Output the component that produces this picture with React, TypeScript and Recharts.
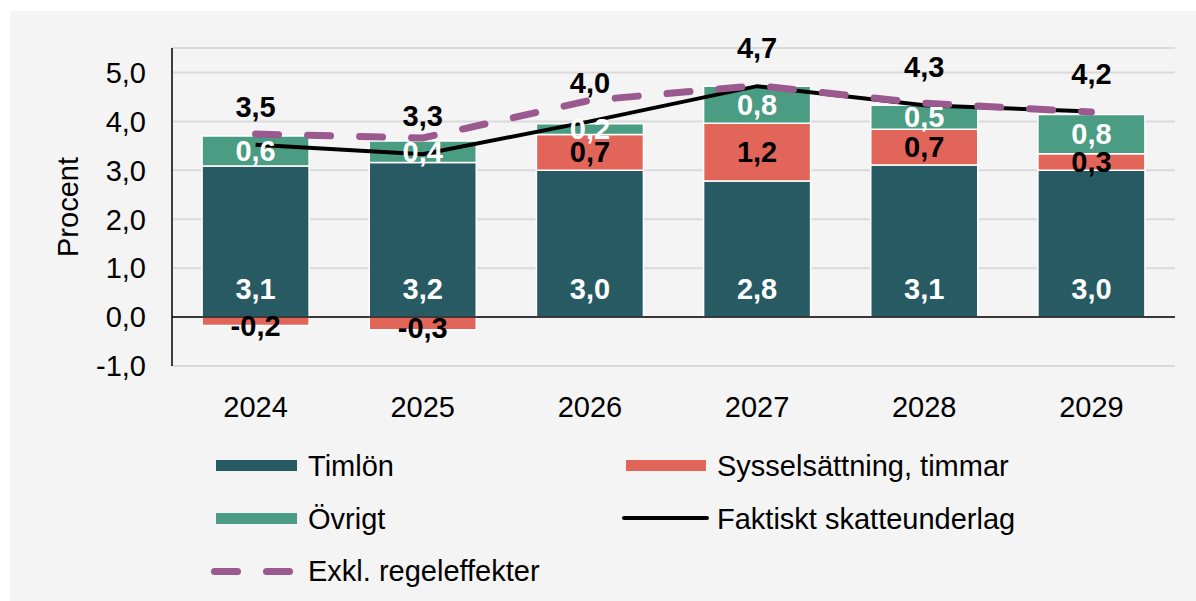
import { ComposedChart, Bar, Line, XAxis, YAxis, CartesianGrid, ReferenceLine, LabelList } from 'recharts';

const years = ['2024', '2025', '2026', '2027', '2028', '2029'];
const timlon = [3.09, 3.16, 3.0, 2.78, 3.11, 3.0];
const syssel = [-0.17, -0.26, 0.73, 1.18, 0.73, 0.34];
const ovrigt = [0.61, 0.44, 0.22, 0.76, 0.49, 0.8];
const faktiskt = [3.52, 3.33, 4.0, 4.72, 4.33, 4.2];
const exkl = [3.74, 3.66, 4.43, 4.73, 4.37, 4.19];
const yTicks = [-1, 0, 1, 2, 3, 4, 5];

const C_TIM = '#285a64';
const C_SYS = '#e2655a';
const C_OVR = '#4a9c82';
const C_EXK = '#9b5a8f';
const FONT = '"Liberation Sans", Arial, sans-serif';

const data = years.map((year, i) => ({
  year,
  timlon: timlon[i],
  syssel: syssel[i],
  ovrigt: ovrigt[i],
  ovrigtMid: timlon[i] + Math.max(syssel[i], 0) + ovrigt[i] / 2,
  faktiskt: faktiskt[i],
  exkl: exkl[i],
}));

const fmt = (v: number) => v.toFixed(1).replace('.', ',');

const txt = (x: number, y: number, v: number, fill: string, key?: string) => (
  <text key={key} x={x} y={y} fill={fill} textAnchor="middle" dominantBaseline="central"
    fontFamily={FONT} fontSize={29} fontWeight="bold">{fmt(v)}</text>
);

const TimLabel = (p: any) => txt(p.x + p.width / 2, p.y + p.height - 28, p.value, '#fff');
const SysLabel = (p: any) => txt(p.x + p.width / 2, p.y + p.height / 2 + (p.value < 0 ? 5 : 0), p.value, '#000');
const OvrLabel = (p: any) => txt(p.x, p.y, p.value, '#fff');
const LineLabel = (p: any) => txt(p.x, p.y - 38, p.value, '#000');

const YLabel = () => (
  <text x={68} y={207} transform="rotate(-90 68 207)" textAnchor="middle" dominantBaseline="central"
    fontFamily={FONT} fontSize={29} fill="#000">Procent</text>
);

const legendText: React.CSSProperties = { position: 'absolute', fontFamily: FONT, fontSize: 29, lineHeight: '34px', color: '#000' };

export default function App() {
  return (
    <div style={{ position: 'absolute', left: 0, top: 0, width: 1196, height: 601, background: '#fff', overflow: 'hidden' }}>
      <div style={{ position: 'absolute', left: 10, top: 11, right: 0, bottom: 0, background: '#f4f4f4' }} />
      <div style={{ position: 'absolute', left: 0, top: 0 }}>
        <ComposedChart width={1196} height={601} data={data} stackOffset="sign" barCategoryGap="18%"
          margin={{ top: 48, right: 21, bottom: 175, left: 0 }}>
          <CartesianGrid horizontal vertical={false} stroke="#dadada" strokeWidth={2} />
          <XAxis dataKey="year" axisLine={false} tickLine={false} tickMargin={24} height={60}
            tick={{ fontFamily: FONT, fontSize: 29, fill: '#000' }} />
          <YAxis domain={[-1, 5.5]} ticks={yTicks} width={172} tickFormatter={fmt} tickSize={0} tickMargin={26}
            axisLine={{ stroke: '#000', strokeWidth: 1.5 }} tick={{ fontFamily: FONT, fontSize: 29, fill: '#000' }}
            label={<YLabel />} />
          <Bar dataKey="timlon" stackId="a" fill={C_TIM} stroke="#fff" strokeWidth={1.5} isAnimationActive={false}>
            <LabelList dataKey="timlon" content={TimLabel} />
          </Bar>
          <Bar dataKey="syssel" stackId="a" fill={C_SYS} stroke="#fff" strokeWidth={1.5} isAnimationActive={false}>
            <LabelList dataKey="syssel" content={SysLabel} />
          </Bar>
          <Bar dataKey="ovrigt" stackId="a" fill={C_OVR} stroke="#fff" strokeWidth={1.5} isAnimationActive={false} />
          <ReferenceLine y={0} stroke="#000" strokeWidth={1.5} />
          <Line dataKey="faktiskt" stroke="#000" strokeWidth={4} dot={false} activeDot={false} isAnimationActive={false} />
          <Line dataKey="exkl" stroke={C_EXK} strokeWidth={7} strokeDasharray="23 29" strokeLinecap="round"
            dot={false} activeDot={false} isAnimationActive={false} />
          <Line dataKey="ovrigtMid" stroke="none" dot={false} activeDot={false} isAnimationActive={false}>
            <LabelList dataKey="ovrigt" content={OvrLabel} />
          </Line>
          <Line dataKey="faktiskt" stroke="none" dot={false} activeDot={false} isAnimationActive={false}>
            <LabelList dataKey="faktiskt" content={LineLabel} />
          </Line>
        </ComposedChart>
      </div>
      {/* legend */}
      <div style={{ position: 'absolute', left: 216, top: 460, width: 81, height: 11, background: C_TIM }} />
      <div style={{ ...legendText, left: 308, top: 449 }}>Timlön</div>
      <div style={{ position: 'absolute', left: 626, top: 460, width: 80, height: 11, background: C_SYS }} />
      <div style={{ ...legendText, left: 717, top: 449 }}>Sysselsättning, timmar</div>
      <div style={{ position: 'absolute', left: 216, top: 513, width: 81, height: 11, background: C_OVR }} />
      <div style={{ ...legendText, left: 308, top: 502 }}>Övrigt</div>
      <div style={{ position: 'absolute', left: 622, top: 516, width: 87, height: 4, background: '#000', borderRadius: 2 }} />
      <div style={{ ...legendText, left: 717, top: 502 }}>Faktiskt skatteunderlag</div>
      <div style={{ position: 'absolute', left: 211, top: 568, width: 30, height: 7, background: C_EXK, borderRadius: 4 }} />
      <div style={{ position: 'absolute', left: 263, top: 568, width: 30, height: 7, background: C_EXK, borderRadius: 4 }} />
      <div style={{ ...legendText, left: 308, top: 554 }}>Exkl. regeleffekter</div>
    </div>
  );
}
